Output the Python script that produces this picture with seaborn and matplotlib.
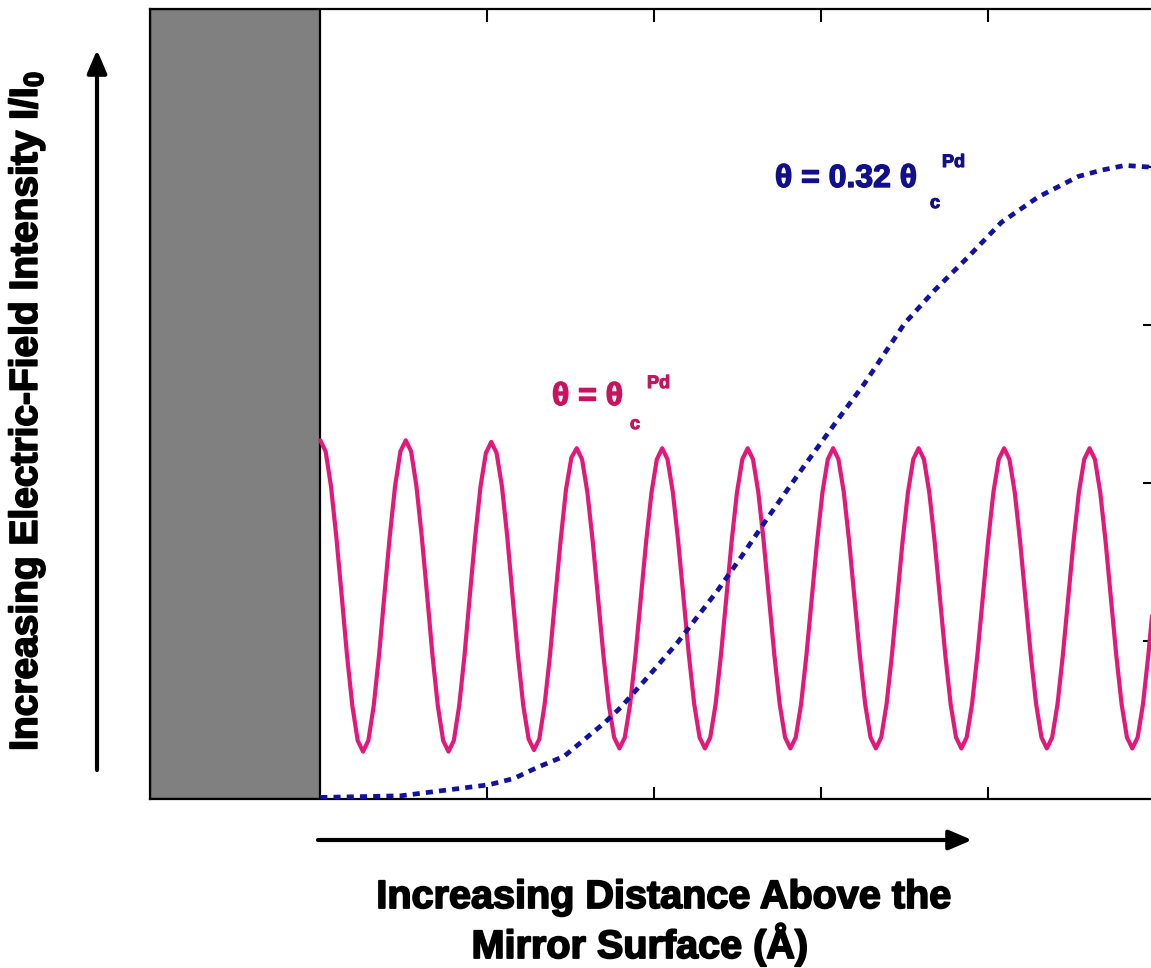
import numpy as np
import pandas as pd
import matplotlib
matplotlib.use("Agg")
import matplotlib.pyplot as plt
import matplotlib.patheffects as pe
import seaborn as sns

# ---------------- data ----------------
# Pink curve: theta = theta_c^Pd, sampled 16 times per oscillation period
pink_step = 0.032  # sample spacing along the distance axis
pink_y = [
    2.27, 2.20, 1.98, 1.66, 1.29, 0.91, 0.59, 0.37, 0.30, 0.37, 0.59, 0.91, 1.29, 1.66, 1.98, 2.20,
    2.27, 2.20, 1.98, 1.66, 1.29, 0.91, 0.59, 0.37, 0.30, 0.37, 0.59, 0.91, 1.29, 1.66, 1.98, 2.19,
    2.26, 2.19, 1.98, 1.66, 1.28, 0.91, 0.59, 0.38, 0.31, 0.38, 0.60, 0.91, 1.28, 1.64, 1.96, 2.16,
    2.22, 2.15, 1.94, 1.63, 1.27, 0.91, 0.60, 0.39, 0.32, 0.39, 0.60, 0.91, 1.27, 1.63, 1.94, 2.15,
    2.22, 2.15, 1.94, 1.63, 1.27, 0.91, 0.60, 0.39, 0.32, 0.39, 0.60, 0.91, 1.27, 1.63, 1.94, 2.15,
    2.22, 2.15, 1.94, 1.63, 1.27, 0.91, 0.60, 0.39, 0.32, 0.39, 0.60, 0.91, 1.27, 1.63, 1.94, 2.15,
    2.22, 2.15, 1.94, 1.63, 1.27, 0.91, 0.60, 0.39, 0.32, 0.39, 0.60, 0.91, 1.27, 1.63, 1.94, 2.15,
    2.22, 2.15, 1.94, 1.63, 1.27, 0.91, 0.60, 0.39, 0.32, 0.39, 0.60, 0.91, 1.27, 1.63, 1.94, 2.15,
    2.22, 2.15, 1.94, 1.63, 1.27, 0.91, 0.60, 0.39, 0.32, 0.39, 0.60, 0.91, 1.27, 1.63, 1.94, 2.15,
    2.22, 2.15, 1.94, 1.63, 1.27, 0.91, 0.60, 0.39, 0.32, 0.39, 0.60, 0.91, 1.27,
]
pink_x = np.arange(len(pink_y)) * pink_step

# Blue dashed curve: theta = 0.32 theta_c^Pd
blue_x = [0.00, 0.48, 1.01, 1.16, 1.30, 1.46, 1.70, 1.80, 1.96, 2.14, 2.38,
          2.52, 2.68, 2.90, 3.12, 3.26, 3.50, 3.68, 3.88, 4.08, 4.30, 4.54,
          4.68, 4.82, 4.96, 5.00]
blue_y = [0.01, 0.02, 0.09, 0.13, 0.20, 0.27, 0.48, 0.58, 0.77, 0.99, 1.32,
          1.53, 1.78, 2.11, 2.43, 2.63, 3.01, 3.22, 3.43, 3.65, 3.81, 3.94,
          3.98, 4.01, 4.00, 3.99]

x_ticks = [1, 2, 3, 4]
y_ticks = [1, 2, 3, 4]

ylabel_text = "Increasing Electric-Field Intensity I/I"
xlabel_lines = ["Increasing Distance Above the", "Mirror Surface (\u00c5)"]
pink_label = ["\u03b8 = \u03b8", "c", "Pd"]
blue_label = ["\u03b8 = 0.32 \u03b8", "c", "Pd"]

# ---------------- styling ----------------
sns.set_theme(style="white")
plt.rcParams["font.family"] = ["Liberation Sans", "DejaVu Sans"]
plt.rcParams["font.weight"] = "bold"
plt.rcParams["mathtext.fontset"] = "custom"
plt.rcParams["mathtext.rm"] = "Liberation Sans:bold"
plt.rcParams["mathtext.bf"] = "Liberation Sans:bold"
plt.rcParams["mathtext.default"] = "bf"

W, H = 1151, 968
fig = plt.figure(figsize=(W / 100, H / 100), dpi=100)
ax = fig.add_axes([150 / W, 1 - 799 / H, (1155 - 150) / W, (799 - 9) / H])

PINK = "#e3187a"
PINK_TXT = "#c8145f"
BLUE = "#1212a0"
BLUE_TXT = "#10108c"

# mirror block
ax.axvspan(-1.02, 0, facecolor="#808080", edgecolor="black", linewidth=1.6, zorder=1)

df_pink = pd.DataFrame({"x": pink_x, "y": pink_y})
df_blue = pd.DataFrame({"x": blue_x, "y": blue_y})
sns.lineplot(data=df_pink, x="x", y="y", ax=ax, color=PINK, linewidth=3.0,
             sort=False, estimator=None, zorder=3)
sns.lineplot(data=df_blue, x="x", y="y", ax=ax, color=BLUE, linewidth=3.4,
             linestyle=(0, (1.5, 1.3)), sort=False, estimator=None, zorder=4)

ax.set_xlim(-1.02, 5.0)
ax.set_ylim(0, 5)
ax.set_xlabel("")
ax.set_ylabel("")
ax.set_xticks(x_ticks)
ax.set_yticks(y_ticks)
ax.tick_params(axis="x", which="both", direction="in", length=9, width=1.5,
               top=True, bottom=True, labelbottom=False, labeltop=False, color="black")
ax.tick_params(axis="y", which="both", direction="in", length=9, width=1.5,
               left=False, right=True, labelleft=False, labelright=False, color="black")
for s in ["left", "top", "bottom", "right"]:
    ax.spines[s].set_color("black")
    ax.spines[s].set_linewidth(1.6)

def heavy(color, w=1.3):
    return [pe.withStroke(linewidth=w, foreground=color)]

# axis titles
fig.text(27 / W, 1 - 411 / H, ylabel_text + "$_{0}$", rotation=90, ha="center", va="center",
         fontsize=28, fontweight="bold", color="black", path_effects=heavy("black"))
fig.text(664 / W, 1 - 908 / H, xlabel_lines[0], ha="center", va="baseline",
         fontsize=28.5, fontweight="bold", color="black", path_effects=heavy("black"))
fig.text(640 / W, 1 - 958 / H, xlabel_lines[1], ha="center", va="baseline",
         fontsize=28.5, fontweight="bold", color="black", path_effects=heavy("black"))

# arrows
ax.annotate("", xy=(97 / W, 1 - 50 / H), xytext=(97 / W, 1 - 770 / H),
            xycoords="figure fraction", textcoords="figure fraction",
            arrowprops=dict(arrowstyle="-|>,head_length=0.7,head_width=0.3",
                            lw=3, color="black", mutation_scale=20, shrinkA=0, shrinkB=0),
            annotation_clip=False)
ax.annotate("", xy=(972 / W, 1 - 840 / H), xytext=(318 / W, 1 - 840 / H),
            xycoords="figure fraction", textcoords="figure fraction",
            arrowprops=dict(arrowstyle="-|>,head_length=0.7,head_width=0.3",
                            lw=3, color="black", mutation_scale=20, shrinkA=0, shrinkB=0),
            annotation_clip=False)

# curve annotations
def label(parts, x0, yb, xc, ybc, xs, ybs, color):
    fig.text(x0 / W, 1 - yb / H, parts[0], ha="left", va="baseline",
             fontsize=23, fontweight="bold", color=color, path_effects=heavy(color, 1.0))
    fig.text(xc / W, 1 - ybc / H, parts[1], ha="left", va="baseline",
             fontsize=13, fontweight="bold", color=color, path_effects=heavy(color, 0.8))
    fig.text(xs / W, 1 - ybs / H, parts[2], ha="left", va="baseline",
             fontsize=13, fontweight="bold", color=color, path_effects=heavy(color, 0.8))

label(pink_label, 552, 405, 630, 429, 647, 388, PINK_TXT)
label(blue_label, 775, 187, 930, 208, 942, 167, BLUE_TXT)

fig.savefig("out.png", dpi=100)
